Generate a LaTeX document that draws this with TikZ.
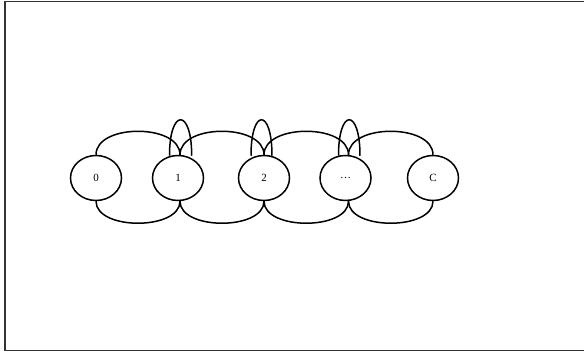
\documentclass[tikz,border=0pt]{standalone}
\usepackage{fontspec}
\setmainfont{Liberation Serif}
\usetikzlibrary{shapes.geometric,backgrounds}
\begin{document}
\begin{tikzpicture}[x=1pt,y=-1pt,
  st/.style={ellipse,draw,line width=1.5pt,fill=white,minimum width=51pt,minimum height=45pt,inner sep=0pt,font=\fontsize{11}{13}\selectfont},
  edge/.style={line width=1.5pt}]
\useasboundingbox (0,0) rectangle (584,352);
\draw[line width=1.6pt,black!80] (590,1.5) -- (5,1.5) -- (5,350.5) -- (590,350.5);
\node[st] (n0) at (96,178) {0};
\node[st] (n1) at (178,178) {1};
\node[st] (n2) at (264,178) {2};
\node[st] (n3) at (345.5,178) {\dots};
\node[st] (nc) at (433,178) {C};
\begin{scope}[on background layer]
% upper arcs
\draw[edge] (n0.north) .. controls ([yshift=31.3pt]n0.north) and ([xshift=2pt,yshift=31.3pt]n1.north) .. ([xshift=2pt]n1.north);
\draw[edge] ([xshift=2pt]n1.north) .. controls ([xshift=2pt,yshift=31.3pt]n1.north) and ([yshift=31.3pt]n2.north) .. (n2.north);
\draw[edge] (n2.north) .. controls ([yshift=31.3pt]n2.north) and ([xshift=3pt,yshift=31.3pt]n3.north) .. ([xshift=3pt]n3.north);
\draw[edge] ([xshift=3pt]n3.north) .. controls ([xshift=3pt,yshift=31.3pt]n3.north) and ([yshift=31.3pt]nc.north) .. (nc.north);
% lower arcs
\draw[edge] (n0.south) .. controls ([yshift=-29.3pt]n0.south) and ([xshift=2pt,yshift=-29.3pt]n1.south) .. ([xshift=2pt]n1.south);
\draw[edge] ([xshift=2pt]n1.south) .. controls ([xshift=2pt,yshift=-29.3pt]n1.south) and ([yshift=-29.3pt]n2.south) .. (n2.south);
\draw[edge] (n2.south) .. controls ([yshift=-29.3pt]n2.south) and ([xshift=3pt,yshift=-29.3pt]n3.south) .. ([xshift=3pt]n3.south);
\draw[edge] ([xshift=3pt]n3.south) .. controls ([xshift=3pt,yshift=-29.3pt]n3.south) and ([yshift=-29.3pt]nc.south) .. (nc.south);
% self loops
\draw[edge] ([xshift=-8.5pt,yshift=-1pt]n1.north) .. controls ([xshift=-8.5pt,yshift=47pt]n1.north) and ([xshift=13.7pt,yshift=47pt]n1.north) .. ([xshift=13.7pt,yshift=-1pt]n1.north);
\draw[edge] ([xshift=-13pt,yshift=-1pt]n2.north) .. controls ([xshift=-13pt,yshift=47pt]n2.north) and ([xshift=8pt,yshift=47pt]n2.north) .. ([xshift=8pt,yshift=-1pt]n2.north);
\draw[edge] ([xshift=-7pt,yshift=-1pt]n3.north) .. controls ([xshift=-7pt,yshift=47pt]n3.north) and ([xshift=14.5pt,yshift=47pt]n3.north) .. ([xshift=14.5pt,yshift=-1pt]n3.north);
\end{scope}
\end{tikzpicture}
\end{document}
